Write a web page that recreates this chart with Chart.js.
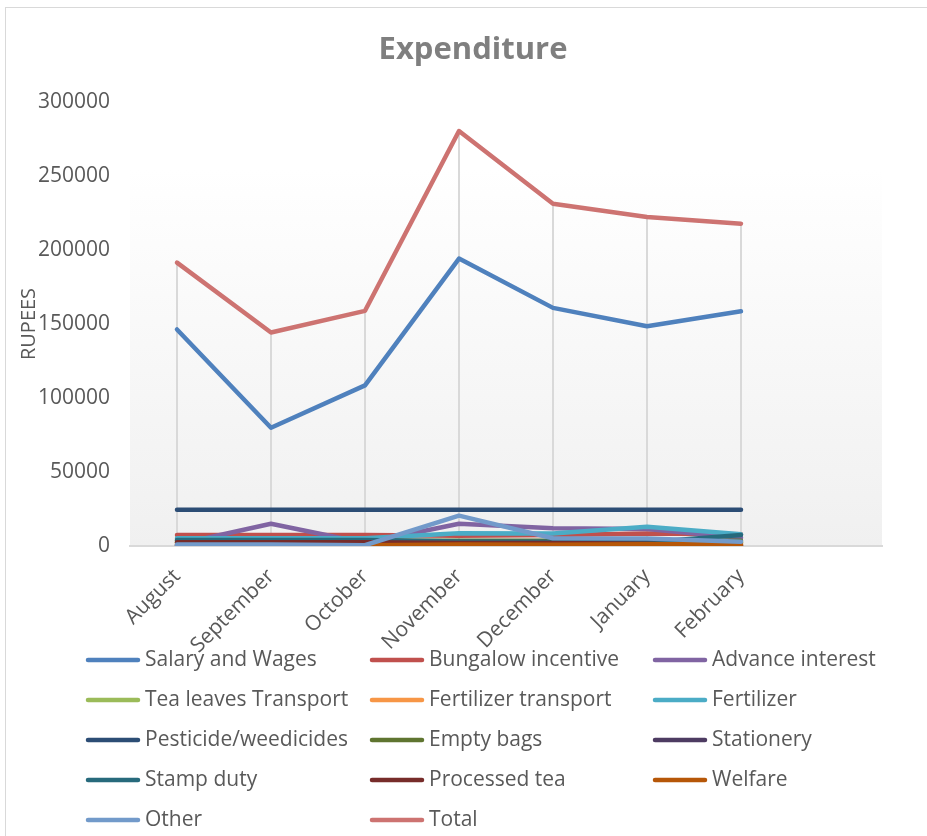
<!DOCTYPE html>
<html>
<head>
<meta charset="utf-8">
<script src="https://cdn.jsdelivr.net/npm/chart.js@4.4.1/dist/chart.umd.min.js"></script>
<style>
  html, body { margin: 0; padding: 0; background: #ffffff; }
  #wrap { width: 927px; height: 836px; position: relative; }
  canvas { display: block; }
</style>
</head>
<body>
<div id="wrap"><canvas id="c" width="927" height="836"></canvas></div>
<script>
// ---- data ----
const months = ['August', 'September', 'October', 'November', 'December', 'January', 'February', ''];
const yTicks = [0, 50000, 100000, 150000, 200000, 250000, 300000];

const salaryWages        = [146300, 79900, 108500, 194200, 160900, 148500, 158600];
const bungalowIncentive  = [7500, 7500, 7500, 7000, 7500, 8500, 8000];
const advanceInterest    = [1000, 15000, 2000, 15000, 12000, 11500, 5500];
const teaLeavesTransport = [2500, 2500, 2500, 2500, 2500, 2500, 2500];
const fertilizerTransport= [1500, 1500, 1500, 1500, 1500, 1500, 1500];
const fertilizer         = [5200, 5200, 5200, 8600, 8500, 13000, 8000];
const pesticideWeedicides= [24500, 24500, 24500, 24500, 24500, 24500, 24500];
const emptyBags          = [3500, 3500, 3500, 3500, 3500, 3500, 3500];
const stationery         = [300, 300, 300, 300, 300, 300, 300];
const stampDuty          = [4000, 4000, 4000, 3000, 2900, 2500, 7400];
const processedTea       = [2500, 2500, 2500, 2000, 2000, 1500, 0];
const welfare            = [0, 0, 500, 1000, 800, 1100, 1100];
const other              = [1000, 1000, 500, 20500, 5200, 5000, 2900];
const total              = [191500, 144300, 158900, 280400, 231300, 222300, 217800];

const seriesNames = ['Salary and Wages', 'Bungalow incentive', 'Advance interest', 'Tea leaves Transport',
  'Fertilizer transport', 'Fertilizer', 'Pesticide/weedicides', 'Empty bags', 'Stationery',
  'Stamp duty', 'Processed tea', 'Welfare', 'Other', 'Total'];
const seriesData = [salaryWages, bungalowIncentive, advanceInterest, teaLeavesTransport,
  fertilizerTransport, fertilizer, pesticideWeedicides, emptyBags, stationery,
  stampDuty, processedTea, welfare, other, total];
const seriesColors = ['#4F81BD', '#C0504D', '#8064A2', '#9BBB59', '#F79646', '#4BACC6',
  '#2C4D75', '#5F7530', '#4D3B62', '#276A7C', '#772C2A', '#B65708', '#729ACA', '#CD7371'];
const chartTitle = 'Expenditure';

const FONT = "'Open Sans', 'DejaVu Sans', sans-serif";
const TEXT = '#595959';

const datasets = seriesNames.map((name, i) => ({
  label: name,
  data: seriesData[i],
  borderColor: seriesColors[i],
  backgroundColor: seriesColors[i],
  borderWidth: 4.5,
  borderCapStyle: 'round',
  borderJoinStyle: 'round',
  pointRadius: 0,
  pointHoverRadius: 0,
  tension: 0,
  fill: false,
  order: seriesNames.length - i
}));

const framePlugin = {
  id: 'frame',
  beforeDraw(chart) {
    const { ctx, chartArea: a } = chart;
    ctx.save();
    ctx.fillStyle = '#ffffff';
    ctx.fillRect(0, 0, chart.width, chart.height);
    ctx.strokeStyle = '#d9d9d9';
    ctx.lineWidth = 1;
    ctx.strokeRect(5.5, 7.5, chart.width + 20, chart.height + 20);
    const g = ctx.createLinearGradient(0, a.top, 0, a.bottom);
    g.addColorStop(0, '#ffffff');
    g.addColorStop(0.15, '#ffffff');
    g.addColorStop(1, '#f0f0f0');
    ctx.fillStyle = g;
    ctx.fillRect(a.left, a.top, a.right - a.left, a.bottom - a.top);
    // title
    ctx.fillStyle = '#7f7f7f';
    ctx.font = 'bold 31px ' + FONT;
    ctx.textAlign = 'center';
    ctx.textBaseline = 'middle';
    ctx.fillText(chartTitle, 473, 50);
    ctx.restore();
  }
};

const dropLinePlugin = {
  id: 'dropLines',
  beforeDatasetsDraw(chart) {
    const { ctx, scales: { x, y } } = chart;
    ctx.save();
    ctx.strokeStyle = '#d9d9d9';
    ctx.lineWidth = 2;
    const n = months.length;
    for (let i = 0; i < n; i++) {
      let max = null;
      chart.data.datasets.forEach(ds => {
        const v = ds.data[i];
        if (v !== undefined && v !== null && (max === null || v > max)) max = v;
      });
      if (max === null) continue;
      const px = x.getPixelForValue(i);
      ctx.beginPath();
      ctx.moveTo(px, y.getPixelForValue(max));
      ctx.lineTo(px, y.getPixelForValue(0));
      ctx.stroke();
    }
    ctx.restore();
  }
};

const legendPlugin = {
  id: 'gridLegend',
  afterDraw(chart) {
    const { ctx } = chart;
    const colX = [88, 372, 655];
    const rowY0 = 660, rowH = 40, lineLen = 50, gap = 7;
    ctx.save();
    ctx.font = '21px ' + FONT;
    ctx.textBaseline = 'middle';
    ctx.textAlign = 'left';
    chart.data.datasets.forEach((ds, i) => {
      const cx = colX[i % 3];
      const cy = rowY0 + Math.floor(i / 3) * rowH;
      ctx.strokeStyle = ds.borderColor;
      ctx.lineWidth = 4.5;
      ctx.lineCap = 'round';
      ctx.beginPath();
      ctx.moveTo(cx, cy);
      ctx.lineTo(cx + lineLen, cy);
      ctx.stroke();
      ctx.fillStyle = TEXT;
      ctx.fillText(ds.label, cx + lineLen + gap, cy);
    });
    ctx.restore();
  }
};

new Chart(document.getElementById('c'), {
  type: 'line',
  data: { labels: months, datasets },
  plugins: [framePlugin, dropLinePlugin, legendPlugin],
  options: {
    responsive: false,
    animation: false,
    events: [],
    layout: { padding: { left: 0, right: 45, top: 102, bottom: 0 } },
    plugins: {
      legend: { display: false },
      tooltip: { enabled: false },
      title: { display: false }
    },
    scales: {
      x: {
        type: 'category',
        offset: true,
        grid: { display: true, color: 'rgba(0,0,0,0)', drawTicks: false },
        border: { display: true, color: '#d9d9d9', width: 2 },
        ticks: {
          autoSkip: false,
          minRotation: 45,
          maxRotation: 45,
          padding: 18,
          color: TEXT,
          font: { family: FONT, size: 21 }
        },
        afterFit(scale) { scale.height = 290; }
      },
      y: {
        min: 0,
        max: 300000,
        afterBuildTicks(scale) { scale.ticks = yTicks.map(v => ({ value: v })); },
        grid: { display: false, drawTicks: false },
        border: { display: false },
        ticks: {
          padding: 20,
          color: TEXT,
          font: { family: FONT, size: 21 },
          callback: v => String(v)
        },
        title: {
          display: true,
          text: 'RUPEES',
          color: TEXT,
          font: { family: FONT, size: 20 },
          padding: { top: 17, bottom: 0 }
        },
        afterFit(scale) { scale.width = 130; }
      }
    }
  }
});
</script>
</body>
</html>
